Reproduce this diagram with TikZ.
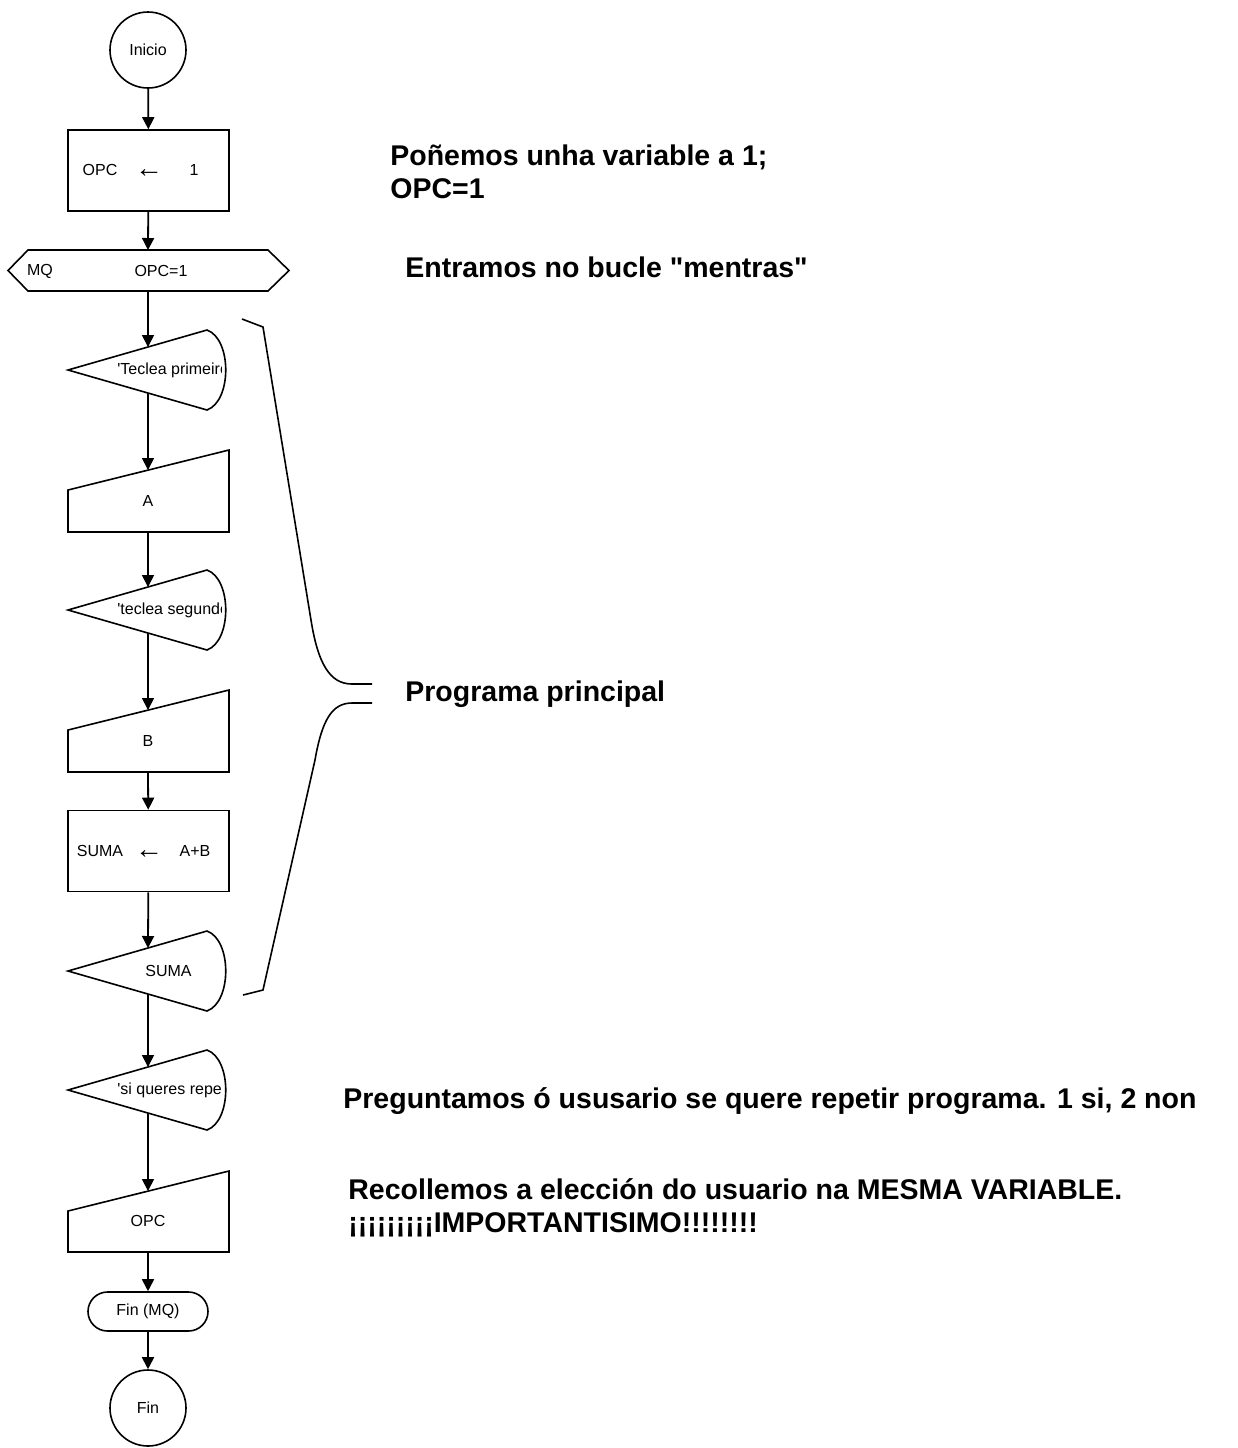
\documentclass[tikz,border=0pt]{standalone}
\usepackage{fontspec}
\setmainfont{Liberation Sans}[Ligatures=TeXOff]
\usetikzlibrary{arrows.meta}

% display symbol: pointed left end, curved right end
\newcommand{\dispshape}[4]{% name, centre y, text x, text
  \draw[outline] (68,#2) -- (207,{#2-40}) .. controls (232,{#2-31}) and (232,{#2+31}) .. (207,{#2+40}) -- cycle;
  \coordinate (#1-in) at (148,{#2-23});
  \coordinate (#1-out) at (148,{#2+23});
  \begin{scope}
    \clip (60,{#2-30}) rectangle (221,{#2+30});
    \node[lbl,anchor=west] (#1) at (#3,#2) {#4};
  \end{scope}
}
% manual input symbol: sloped top edge
\newcommand{\maninput}[5]{% name, top-left y, bottom y, text y, text
  \draw[outline] (68,#2) -- (229,{#2-40}) -- (229,#3) -- (68,#3) -- cycle;
  \coordinate (#1-in) at (148,{#2-20});
  \coordinate (#1-out) at (148,#3);
  \node[lbl] (#1) at (148,#4) {#5};
}

\begin{document}
\begin{tikzpicture}[x=0.5pt,y=-0.5pt,
  outline/.style={draw=black,line width=0.8pt},
  flow/.style={draw=black,line width=0.9pt,-{Triangle[width=6pt,length=6pt]}},
  lbl/.style={font=\fontsize{8}{9.6}\selectfont,inner sep=0pt},
  assign/.style={font=\fontsize{14}{16}\selectfont,inner sep=0pt},
  note/.style={font=\fontsize{14.25}{17}\selectfont\bfseries,inner sep=0pt,anchor=base west},
  term/.style={outline,circle,minimum size=38pt,inner sep=0pt,font=\fontsize{8}{9.6}\selectfont},
  procbox/.style={outline,rectangle,minimum width=80.5pt,minimum height=40.5pt,inner sep=0pt},
  brace/.style={draw=black,line width=0.8pt},
]
\fill[white] (0,0) rectangle (1238,1448);
\useasboundingbox (0,0) rectangle (1238,1448);

% start
\node[term] (inicio) at (148,50) {Inicio};

% OPC <- 1
\node[procbox] (asig1) at (148.5,170.5) {};
\node[lbl] (asig1a) at (100,170) {OPC};
\node[assign] (asig1b) at (149,174) {←};
\node[lbl] (asig1c) at (194,170) {1};

% while loop header
\draw[outline] (8,270.5) -- (28,250) -- (268,250) -- (289,270.5) -- (268,291) -- (28,291) -- cycle;
\node[lbl] (mqa) at (40,271) {MQ};
\node[lbl] (mqb) at (161,271) {OPC=1};
\coordinate (mq-in) at (148,250);
\coordinate (mq-out) at (148,291);

% loop body
\dispshape{d1}{370}{117}{'Teclea primeiro}
\maninput{ma}{490}{532}{501}{A}
\dispshape{d2}{610}{117}{'teclea segundo}
\maninput{mb}{730}{772}{741}{B}

\node[procbox] (asig2) at (148.5,851) {};
\node[lbl] (asig2a) at (100,851) {SUMA};
\node[assign] (asig2b) at (149,855) {←};
\node[lbl] (asig2c) at (195,851) {A+B};

\dispshape{d3}{971}{145}{SUMA}
\dispshape{d4}{1090}{117}{'si queres repetir}
\maninput{mo}{1211}{1252}{1221}{OPC}

% end of loop and end
\node[outline,rounded corners=9.75pt,minimum width=60pt,minimum height=19.5pt,inner sep=0pt,
      font=\fontsize{8}{9.6}\selectfont] (finmq) at (148,1311.5) {Fin (MQ)};
\node[term] (fin) at (148,1408) {Fin};

% connectors
\draw[flow] (inicio) -- (asig1);
\draw[flow] (asig1) -- (mq-in);
\draw[flow] (mq-out) -- (d1-in);
\draw[flow] (d1-out) -- (ma-in);
\draw[flow] (ma-out) -- (d2-in);
\draw[flow] (d2-out) -- (mb-in);
\draw[flow] (mb-out) -- (asig2);
\draw[flow] (asig2) -- (d3-in);
\draw[flow] (d3-out) -- (d4-in);
\draw[flow] (d4-out) -- (mo-in);
\draw[flow] (mo-out) -- (finmq);
\draw[flow] (finmq) -- (fin);

% brace around the main program
\draw[brace] (242,319) -- (263,327) -- (311,620) .. controls (318,664) and (330,684) .. (352,684) -- (372,684);
\draw[brace] (372,703) -- (352,703) .. controls (332,703) and (322,720) .. (315,760) -- (263,990) -- (243,995);

% notes
\node[note] (n1a) at (390,165) {Poñemos unha variable a 1;};
\node[note] (n1b) at (390,198) {OPC=1};
\node[note] (n2) at (405,277) {Entramos no bucle "mentras"};
\node[note] (n3) at (405,701) {Programa principal};
\node[note] (n4) at (343,1108) {Preguntamos ó ususario se quere repetir programa. 1 si, 2 non};
\node[note] (n5) at (348,1199) {Recollemos a elección do usuario na MESMA VARIABLE.};
\node[note] (n6) at (348,1232) {¡¡¡¡¡¡¡¡¡IMPORTANTISIMO!!!!!!!!};
\end{tikzpicture}
\end{document}
